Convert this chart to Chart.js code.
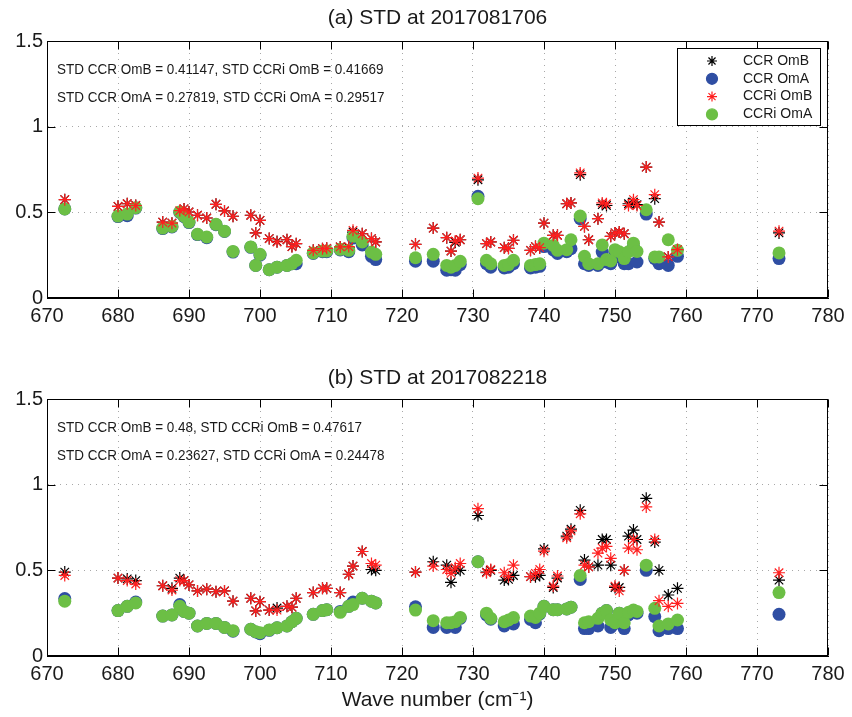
<!DOCTYPE html>
<html>
<head>
<meta charset="utf-8">
<script src="https://cdn.jsdelivr.net/npm/chart.js@4.4.0/dist/chart.umd.min.js"></script>
<style>
  body { margin: 0; background: #fff; }
  canvas { position: absolute; left: 0; }
  #chartA { top: 0; }
  #chartB { top: 358px; }
</style>
</head>
<body>
<canvas id="chartA" width="852" height="358"></canvas>
<canvas id="chartB" width="852" height="359"></canvas>
<script>
// channel wave numbers (cm-1)
const waveNumbers = [672.5, 680.0, 681.3, 682.5, 686.3, 687.6, 688.7, 689.3, 690.0, 691.2,
  692.5, 693.8, 695.0, 696.2, 698.7, 699.4, 700.0, 701.3, 702.4, 703.8,
  704.5, 705.1, 707.5, 708.8, 709.4, 711.3, 712.5, 713.1, 714.4, 715.7,
  716.3, 721.9, 724.4, 726.3, 726.9, 727.5, 728.2, 730.7, 731.9, 732.5,
  734.4, 735.0, 735.7, 738.1, 738.8, 739.4, 740.0, 741.3, 741.9, 743.2,
  743.8, 745.1, 745.7, 746.3, 747.6, 748.2, 748.8, 749.4, 750.0, 750.6,
  751.3, 751.9, 752.6, 753.1, 754.4, 755.6, 756.2, 757.5, 758.8, 773.1];

// (a) 2017081706
const aCcrOmB = [0.574, 0.535, 0.55, 0.54, 0.443, 0.437, 0.50, 0.52, 0.502, 0.483,
  0.467, 0.547, 0.508, 0.477, 0.483, 0.38, 0.453, 0.347, 0.33, 0.34,
  0.30, 0.317, 0.278, 0.288, 0.29, 0.298, 0.295, 0.385, 0.375, 0.347,
  0.327, 0.313, 0.408, 0.352, 0.274, 0.325, 0.34, 0.69, 0.317, 0.327,
  0.294, 0.29, 0.337, 0.278, 0.30, 0.294, 0.437, 0.366, 0.366, 0.55,
  0.555, 0.72, 0.418, 0.34, 0.463, 0.545, 0.54, 0.36, 0.38, 0.385,
  0.375, 0.55, 0.56, 0.545, 0.764, 0.58, 0.443, 0.24, 0.282, 0.38];
const aCcrOmA = [0.52, 0.475, 0.48, 0.525, 0.405, 0.415, 0.50, 0.475, 0.44, 0.37,
  0.352, 0.428, 0.388, 0.268, 0.296, 0.19, 0.25, 0.165, 0.18, 0.19,
  0.20, 0.20, 0.26, 0.27, 0.27, 0.28, 0.27, 0.35, 0.31, 0.243,
  0.224, 0.215, 0.215, 0.162, 0.165, 0.162, 0.195, 0.594, 0.20, 0.18,
  0.175, 0.18, 0.20, 0.175, 0.18, 0.185, 0.30, 0.28, 0.26, 0.27,
  0.288, 0.463, 0.20, 0.19, 0.19, 0.268, 0.21, 0.20, 0.27, 0.24,
  0.20, 0.20, 0.30, 0.21, 0.49, 0.23, 0.20, 0.19, 0.243, 0.23];
const aCcriOmB = [0.574, 0.535, 0.55, 0.54, 0.443, 0.437, 0.51, 0.52, 0.502, 0.483,
  0.467, 0.547, 0.508, 0.477, 0.483, 0.38, 0.453, 0.347, 0.327, 0.34,
  0.30, 0.317, 0.278, 0.288, 0.29, 0.298, 0.30, 0.395, 0.375, 0.347,
  0.327, 0.313, 0.408, 0.352, 0.274, 0.333, 0.34, 0.70, 0.317, 0.327,
  0.294, 0.29, 0.337, 0.278, 0.30, 0.294, 0.437, 0.366, 0.366, 0.55,
  0.555, 0.73, 0.418, 0.34, 0.463, 0.555, 0.55, 0.36, 0.38, 0.385,
  0.375, 0.54, 0.574, 0.54, 0.764, 0.603, 0.443, 0.24, 0.282, 0.39];
const aCcriOmA = [0.52, 0.478, 0.49, 0.527, 0.408, 0.418, 0.502, 0.477, 0.443, 0.372,
  0.356, 0.43, 0.39, 0.272, 0.298, 0.19, 0.255, 0.165, 0.18, 0.19,
  0.20, 0.22, 0.263, 0.274, 0.275, 0.284, 0.278, 0.36, 0.327, 0.268,
  0.255, 0.235, 0.255, 0.19, 0.18, 0.19, 0.214, 0.58, 0.22, 0.20,
  0.19, 0.195, 0.22, 0.19, 0.195, 0.20, 0.32, 0.307, 0.278, 0.282,
  0.34, 0.478, 0.243, 0.20, 0.20, 0.31, 0.224, 0.216, 0.282, 0.27,
  0.23, 0.27, 0.32, 0.272, 0.515, 0.24, 0.24, 0.34, 0.278, 0.263];

// (b) 2017082218
const bCcrOmB = [0.49, 0.455, 0.45, 0.44, 0.41, 0.395, 0.455, 0.44, 0.415, 0.38,
  0.39, 0.375, 0.38, 0.32, 0.337, 0.263, 0.317, 0.268, 0.28, 0.29,
  0.285, 0.337, 0.37, 0.395, 0.395, 0.37, 0.477, 0.525, 0.61, 0.505,
  0.50, 0.49, 0.55, 0.53, 0.43, 0.50, 0.50, 0.82, 0.49, 0.50,
  0.443, 0.447, 0.47, 0.463, 0.463, 0.47, 0.625, 0.40, 0.455, 0.70,
  0.74, 0.85, 0.56, 0.52, 0.53, 0.68, 0.68, 0.53, 0.40, 0.40,
  0.50, 0.70, 0.735, 0.68, 0.92, 0.665, 0.50, 0.356, 0.395, 0.443];
const bCcrOmA = [0.335, 0.265, 0.29, 0.315, 0.233, 0.24, 0.30, 0.26, 0.25, 0.175,
  0.19, 0.19, 0.167, 0.145, 0.156, 0.14, 0.13, 0.15, 0.165, 0.175,
  0.20, 0.22, 0.243, 0.265, 0.27, 0.26, 0.29, 0.315, 0.337, 0.32,
  0.31, 0.287, 0.167, 0.167, 0.19, 0.167, 0.22, 0.55, 0.24, 0.215,
  0.175, 0.20, 0.187, 0.213, 0.194, 0.245, 0.29, 0.27, 0.27, 0.275,
  0.285, 0.447, 0.16, 0.16, 0.175, 0.25, 0.265, 0.167, 0.19, 0.25,
  0.16, 0.24, 0.26, 0.25, 0.50, 0.23, 0.148, 0.16, 0.16, 0.243];
const bCcriOmB = [0.47, 0.455, 0.44, 0.42, 0.41, 0.385, 0.44, 0.44, 0.415, 0.38,
  0.39, 0.375, 0.38, 0.32, 0.337, 0.263, 0.317, 0.268, 0.268, 0.29,
  0.285, 0.337, 0.37, 0.395, 0.395, 0.37, 0.477, 0.525, 0.61, 0.54,
  0.53, 0.49, 0.525, 0.505, 0.482, 0.515, 0.54, 0.86, 0.486, 0.505,
  0.486, 0.463, 0.53, 0.463, 0.482, 0.505, 0.612, 0.408, 0.467, 0.69,
  0.73, 0.83, 0.53, 0.52, 0.60, 0.63, 0.64, 0.57, 0.408, 0.38,
  0.50, 0.63, 0.68, 0.62, 0.87, 0.68, 0.323, 0.29, 0.307, 0.486];
const bCcriOmA = [0.32, 0.265, 0.29, 0.31, 0.233, 0.24, 0.29, 0.26, 0.25, 0.175,
  0.19, 0.19, 0.167, 0.148, 0.156, 0.142, 0.136, 0.152, 0.165, 0.175,
  0.20, 0.22, 0.243, 0.265, 0.27, 0.255, 0.29, 0.30, 0.337, 0.32,
  0.31, 0.268, 0.206, 0.194, 0.194, 0.20, 0.225, 0.55, 0.25, 0.22,
  0.20, 0.21, 0.224, 0.233, 0.225, 0.25, 0.29, 0.27, 0.27, 0.275,
  0.285, 0.47, 0.194, 0.20, 0.22, 0.25, 0.265, 0.21, 0.194, 0.25,
  0.194, 0.255, 0.268, 0.26, 0.53, 0.278, 0.175, 0.187, 0.21, 0.37];

const xTickValues = [670, 680, 690, 700, 710, 720, 730, 740, 750, 760, 770, 780];
const yTickValues = [0, 0.5, 1, 1.5];
const seriesNames = ['CCR OmB', 'CCR OmA', 'CCRi OmB', 'CCRi OmA'];

const notesA = ['STD CCR OmB = 0.41147, STD CCRi OmB = 0.41669',
  'STD CCR OmA = 0.27819, STD CCRi OmA = 0.29517'];
const notesB = ['STD CCR OmB = 0.48, STD CCRi OmB = 0.47617',
  'STD CCR OmA = 0.23627, STD CCRi OmA = 0.24478'];

const FONT = '"Liberation Sans", Arial, sans-serif';
Chart.defaults.font.family = FONT;

const colors = ['#000000', '#2f4ea3', '#ff1f1f', '#6cbf45'];
const styles = ['star', 'circle', 'star', 'circle'];

// box, inward ticks, title, text notes and legend drawn like the matlab figure
const matlabFrame = {
  id: 'matlabFrame',
  afterDraw(chart, args, opts) {
    const {ctx, chartArea: a, scales: {x, y}} = chart;
    const L = Math.round(a.left) + 0.5, R = Math.round(a.right) - 0.5;
    const T = Math.round(a.top) + 0.5, B = Math.round(a.bottom) - 0.5;
    ctx.save();
    ctx.strokeStyle = '#000';
    ctx.lineWidth = 1;
    ctx.strokeRect(L, T, R - L, B - T);
    ctx.beginPath();
    xTickValues.forEach(v => {
      const px = Math.round(x.getPixelForValue(v)) + 0.5;
      ctx.moveTo(px, B); ctx.lineTo(px, B - 8);
      ctx.moveTo(px, T); ctx.lineTo(px, T + 8);
    });
    yTickValues.forEach(v => {
      const py = Math.round(y.getPixelForValue(v)) + 0.5;
      ctx.moveTo(L, py); ctx.lineTo(L + 8, py);
      ctx.moveTo(R, py); ctx.lineTo(R - 8, py);
    });
    ctx.stroke();

    ctx.fillStyle = '#1a1a1a';
    ctx.textAlign = 'center';
    ctx.textBaseline = 'middle';
    ctx.font = '21px ' + FONT;
    ctx.fillText(opts.title, (a.left + a.right) / 2, opts.titleY);

    // the stats text is a little narrower than Liberation Sans
    ctx.textAlign = 'left';
    ctx.font = '14.5px ' + FONT;
    opts.notes.forEach((t, i) => {
      ctx.save();
      ctx.translate(a.left + 10, a.top + 29 + i * 28);
      ctx.scale(0.93, 1);
      ctx.fillText(t, 0, 0);
      ctx.restore();
    });

    if (opts.legend) {
      const bx = 677.5, by = 48.5, bw = 143, bh = 77;
      ctx.fillStyle = '#fff';
      ctx.fillRect(bx, by, bw, bh);
      ctx.strokeRect(bx, by, bw, bh);
      ctx.font = '14px ' + FONT;
      seriesNames.forEach((name, i) => {
        const ry = by + 12.5 + i * 17.8;
        ctx.strokeStyle = colors[i];
        ctx.fillStyle = colors[i];
        ctx.lineWidth = 1.2;
        Chart.helpers.drawPoint(ctx, {pointStyle: styles[i], radius: styles[i] === 'star' ? 5 : 5.5, borderWidth: 1.2, rotation: 0}, 712, ry);
        ctx.fillStyle = '#1a1a1a';
        ctx.fillText(name, 743, ry);
      });
    }
    ctx.restore();
  }
};

function series(i, values) {
  const star = styles[i] === 'star';
  return {
    label: seriesNames[i],
    data: waveNumbers.map((w, k) => ({x: w, y: values[k]})),
    pointStyle: styles[i],
    pointRadius: star ? 6 : 6.5,
    pointBorderWidth: star ? 1.2 : 0,
    pointBorderColor: colors[i],
    pointBackgroundColor: colors[i],
    showLine: false,
    order: [4, 3, 1, 2][i]
  };
}

function makeChart(id, data, opts) {
  return new Chart(document.getElementById(id), {
    type: 'scatter',
    data: {datasets: data.map((d, i) => series(i, d))},
    options: {
      responsive: false,
      animation: false,
      events: [],
      layout: {padding: {left: 0, right: 24, top: 41, bottom: 0}},
      plugins: {
        legend: {display: false},
        tooltip: {enabled: false},
        matlabFrame: opts
      },
      scales: {
        x: {
          type: 'linear', min: 670, max: 780,
          afterBuildTicks: s => { s.ticks = xTickValues.map(v => ({value: v})); },
          afterFit: s => { s.height = opts.xHeight; },
          grid: {color: '#a8a8a8', drawTicks: false},
          border: {color: '#000', dash: [1, 5]},
          ticks: {padding: 6, color: '#1a1a1a', font: {size: 20}, maxRotation: 0, autoSkip: false},
          title: {display: !!opts.xTitle, text: opts.xTitle, color: '#1a1a1a', font: {size: 21}, padding: {top: 0, bottom: 4}}
        },
        y: {
          min: 0, max: 1.5,
          afterBuildTicks: s => { s.ticks = yTickValues.map(v => ({value: v})); },
          afterFit: s => { s.width = 47; },
          grid: {color: '#a8a8a8', drawTicks: false},
          border: {color: '#000', dash: [1, 5]},
          ticks: {padding: 4, color: '#1a1a1a', font: {size: 20}, callback: v => String(v)}
        }
      }
    },
    plugins: [matlabFrame]
  });
}

makeChart('chartA', [aCcrOmB, aCcrOmA, aCcriOmB, aCcriOmA],
  {title: '(a) STD at 2017081706', titleY: 18, notes: notesA, legend: true, xHeight: 60});
makeChart('chartB', [bCcrOmB, bCcrOmA, bCcriOmB, bCcriOmA],
  {title: '(b) STD at 2017082218', titleY: 20, notes: notesB, legend: false, xHeight: 61, xTitle: 'Wave number (cm⁻¹)'});
</script>
</body>
</html>
